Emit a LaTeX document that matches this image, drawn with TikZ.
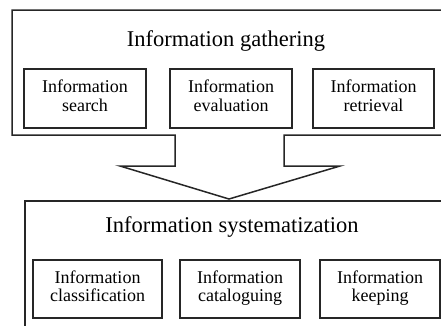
\documentclass[tikz,border=0pt]{standalone}
\usepackage{fontspec}
\setmainfont{Liberation Serif}
\newcommand{\twol}[2]{\strut#1\\\strut#2}
\begin{document}
\begin{tikzpicture}[x=1pt,y=-1pt,
  frame/.style={draw=black!85,line width=1.5pt},
  sub/.style={frame,inner sep=0pt,align=center,font=\fontsize{18}{18.5}\selectfont},
  title/.style={font=\fontsize{22.5}{26}\selectfont,inner sep=0pt}]
\useasboundingbox (0,0) rectangle (441,325);
\clip (0,0) rectangle (441,325);
% top frame with arrow
\coordinate (tl) at (12,10);
\coordinate (tr) at (470,10);
\draw[frame] (tr) -- (tl) -- (12,135) -- (175,135) -- (175,166) -- (120,166)
  -- (229,199) -- (340,166) -- (284,166) -- (284,135) -- (470,135);
\node[title] (t1) at (226,41) {Information gathering};
\node[sub,minimum width=122pt,minimum height=59pt] (a1) at (85,98.5) {\twol{Information}{search}};
\node[sub,minimum width=122pt,minimum height=59pt] (a2) at (231,98.5) {\twol{Information}{evaluation}};
\node[sub,minimum width=121pt,minimum height=59pt] (a3) at (373.5,98.5) {\twol{Information}{retrieval}};
% bottom frame
\draw[frame] (470,201) -- (25,201) -- (25,340);
\node[title] (t2) at (232,227) {Information systematization};
\node[sub,minimum width=129pt,minimum height=58pt] (b1) at (97.5,289) {\twol{Information}{classification}};
\node[sub,minimum width=120pt,minimum height=58pt] (b2) at (240,289) {\twol{Information}{cataloguing}};
\node[sub,minimum width=120pt,minimum height=58pt] (b3) at (380,289) {\twol{Information}{keeping}};
\end{tikzpicture}
\end{document}
